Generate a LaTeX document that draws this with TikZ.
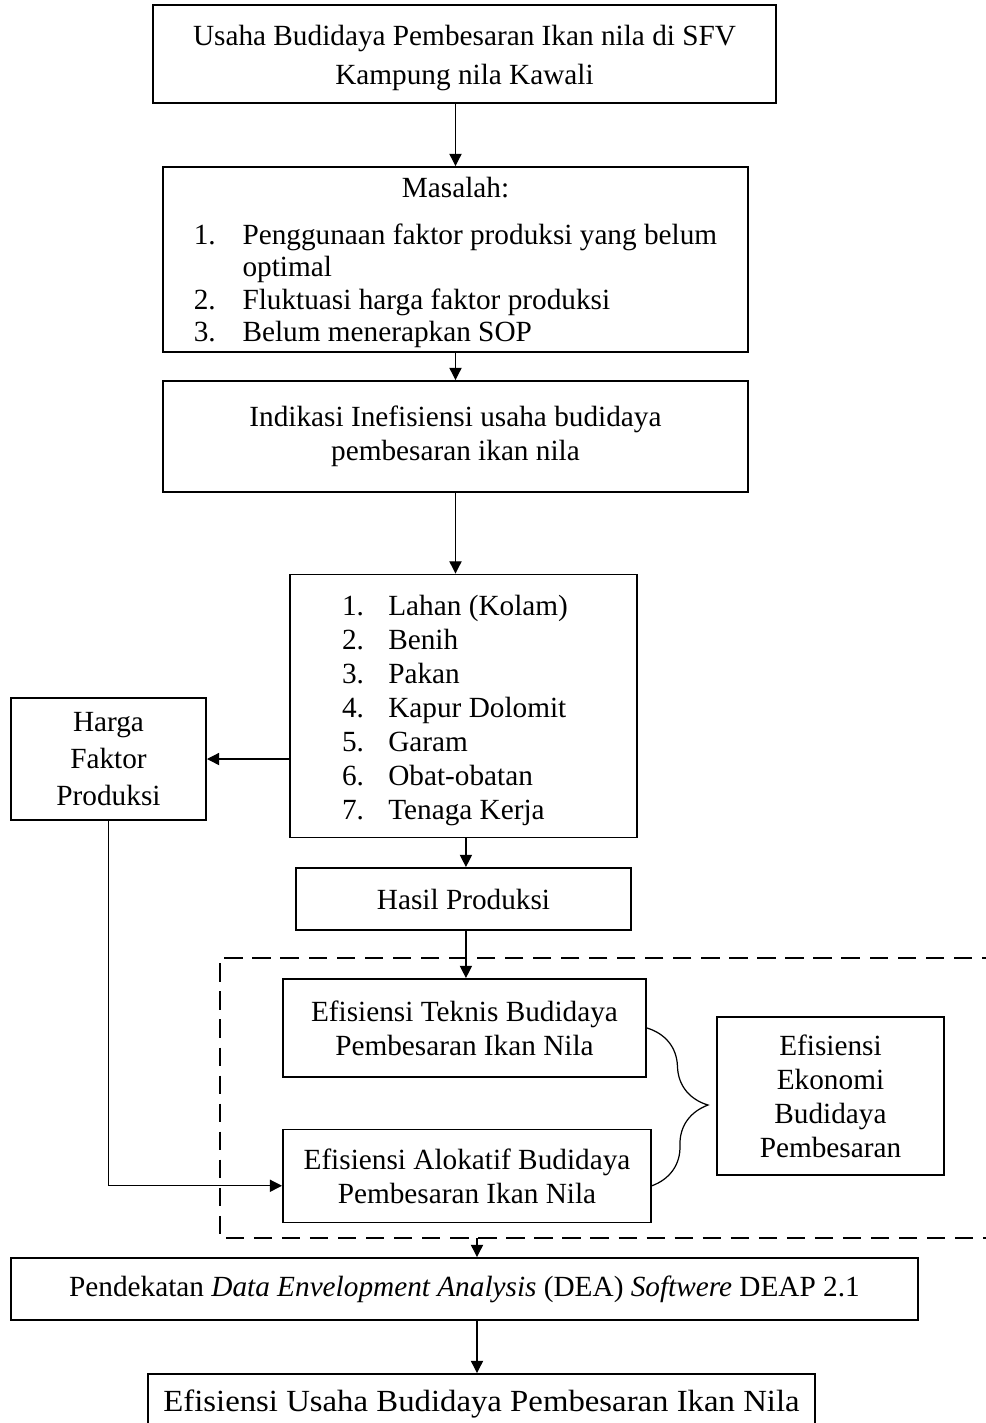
\documentclass[tikz,border=0pt]{standalone}
\usepackage{fontspec}
\setmainfont{Liberation Serif}
\usepackage{tikz}
\usetikzlibrary{arrows.meta,decorations.pathreplacing}

\begin{document}
\begin{tikzpicture}[x=0.41pt, y=-0.41pt]
    \def\px{0.41pt}

    % --- DEFINE STYLES ---
    % Style for solid boxes
    \tikzstyle{box} = [draw, line width=0.8pt, align=center, inner sep=0pt, font=\fontsize{12}{13.9}\selectfont]
    % Style for boxes holding a numbered list
    \tikzstyle{list_box} = [box, align=flush left]
    % Style for connector arrows
    \tikzstyle{arr} = [-{Triangle[length=5pt,width=5pt]}, line width=0.5pt]
    % Style for the dashed frame
    \tikzstyle{dash_frame} = [line width=0.8pt, dash pattern=on 7.5pt off 4pt]

    \useasboundingbox (0,0) rectangle (986,1423);

    % --- DRAW BOXES ---
    \node[box, font=\fontsize{12}{16}\selectfont, minimum width=623*\px, minimum height=98*\px] (usaha) at (464.5,54)
        {\rule{0pt}{11.5pt}Usaha Budidaya Pembesaran Ikan nila di SFV\\Kampung nila Kawali};
    \node[box, font=\fontsize{12}{13.3}\selectfont, minimum width=585*\px, minimum height=185*\px] (masalah) at (455.5,259.5)
        {\rule{0pt}{12.3pt}Masalah:\\[6pt]
         \begin{tabular}[t]{@{}p{20pt}@{}l@{}}
         1. & Penggunaan faktor produksi yang belum\\
            & optimal\\
         2. & Fluktuasi harga faktor produksi\\
         3. & Belum menerapkan SOP
         \end{tabular}};
    \node[box, minimum width=585*\px, minimum height=111*\px] (indikasi) at (455.5,436.5)
        {Indikasi Inefisiensi usaha budidaya\\pembesaran ikan nila};
    \node[list_box, text width=243*\px, inner xsep=52*\px, minimum height=263*\px] (faktor) at (463.5,706)
        {\begin{tabular}{@{}p{19pt}@{}l@{}}
         1.\rule{0pt}{13.7pt} & Lahan (Kolam)\\
         2. & Benih\\
         3. & Pakan\\
         4. & Kapur Dolomit\\
         5. & Garam\\
         6. & Obat-obatan\\
         7. & Tenaga Kerja
         \end{tabular}};
    \node[box, font=\fontsize{12}{15.2}\selectfont, minimum width=195*\px, minimum height=122*\px] (harga) at (108.5,759)
        {Harga\\Faktor\\Produksi};
    \node[box, minimum width=335*\px, minimum height=62*\px] (hasil) at (463.5,899)
        {Hasil Produksi};
    \node[box, minimum width=363*\px, minimum height=98*\px] (teknis) at (464.5,1028)
        {Efisiensi Teknis Budidaya\\Pembesaran Ikan Nila};
    \node[box, minimum width=368*\px, minimum height=93*\px] (alokatif) at (467,1176)
        {Efisiensi Alokatif Budidaya\\Pembesaran Ikan Nila};
    \node[box, minimum width=227*\px, minimum height=158*\px] (ekonomi) at (830.5,1096)
        {Efisiensi\\Ekonomi\\Budidaya\\Pembesaran};
    \node[box, minimum width=907*\px, minimum height=62*\px] (dea) at (464.5,1289)
        {Pendekatan \textit{Data Envelopment Analysis} (DEA) \textit{Softwere} DEAP 2.1};
    \node[box, minimum width=667*\px, minimum height=60*\px] (efisiensi) at (481.5,1404)
        {\scalebox{1.12}[1.05]{Efisiensi Usaha Budidaya Pembesaran Ikan Nila}};

    % --- DASHED FRAME ---
    \coordinate (dash_tl) at (220,958);
    \coordinate (dash_bl) at (220,1238);
    \coordinate (dash_out) at (477,1238);
    \draw[dash_frame] (1000,958) -- (dash_tl) -- (dash_bl) -- (1000,1238);

    % --- CONNECTORS ---
    \draw[arr] (masalah.north |- usaha.south) -- (masalah.north);
    \draw[arr] (masalah.south) -- (indikasi.north);
    \draw[arr] (indikasi.south) -- (indikasi.south |- faktor.north);
    \draw[arr] (faktor.west |- harga.east) -- (harga.east);
    \draw[arr] ([xshift=1pt]faktor.south) -- ([xshift=1pt]hasil.north);
    \draw[arr] ([xshift=1pt]hasil.south) -- ([xshift=1pt]hasil.south |- teknis.north);
    \draw[arr] (harga.south) |- ([yshift=-4pt]alokatif.west);
    \draw[arr] (dash_out) -- (dash_out |- dea.north);
    \draw[arr] (dash_out |- dea.south) -- (dash_out |- efisiensi.north);

    % Brace joining technical and allocative efficiency
    \draw[line width=0.5pt, decorate, decoration={brace, amplitude=24pt}]
        (teknis.east) -- ([yshift=-4pt]alokatif.east);
\end{tikzpicture}
\end{document}
